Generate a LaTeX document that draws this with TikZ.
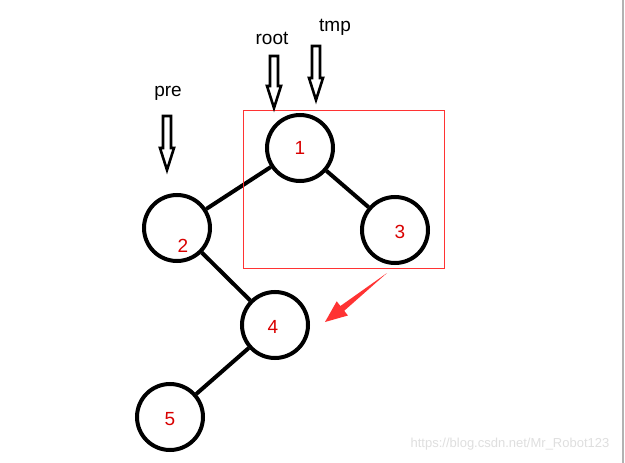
\documentclass[tikz,border=0pt]{standalone}
\usepackage{fontspec}
\setmainfont{Liberation Sans}
\begin{document}
\begin{tikzpicture}[x=1pt,y=-1pt,
  nd/.style={circle,draw=black,line width=4pt,minimum size=66pt,inner sep=0pt},
  lbl/.style={font=\fontsize{19}{19}\selectfont},
  num/.style={text=red!85!black,font=\fontsize{19}{19}\selectfont},
  edge/.style={line width=4pt},
  blk/.style={draw=black,line width=2.6pt,fill=white,line join=miter}]
\useasboundingbox (0,0) rectangle (625,463);
\fill[white] (0,0) rectangle (625,463);
\draw[gray!60,line width=1.5pt] (623,0) -- (623,463);
\node[nd] (n1) at (300,148) {};
\node[nd] (n2) at (177,228) {};
\node[nd] (n3) at (395,230) {};
\node[nd] (n4) at (275,325) {};
\node[nd] (n5) at (170,417) {};
\node[num] (t1) at (300,148) {1};
\node[num] (t2) at (183,246) {2};
\node[num] (t3) at (400,232) {3};
\node[num] (t4) at (273,327) {4};
\node[num] (t5) at (170,419) {5};
\draw[edge] (n1) -- (n2);
\draw[edge] (n1) -- (n3);
\draw[edge] (n2) -- (n4);
\draw[edge] (n4) -- (n5);
\draw[red!80,line width=1pt] (243,110) rectangle (444,268);
\coordinate (as) at (387,273);
\coordinate (ae) at (325,322);
\fill[red!80] (as) -- (344.2,310.8) -- (347.9,315.5) -- (ae) -- (336.7,301.3) -- (340.4,306.0) -- cycle;
\node[lbl] (root) at (272,38) {root};
\node[lbl] (tmp) at (335,27) {tmp};
\node[lbl] (pre) at (168,93) {pre};
\foreach \x/\a/\b in {274/56/108, 316/46/100, 167/116/170}{
  \draw[blk] (\x-4,\a) -- (\x+4,\a) -- (\x+4,\b-22) -- (\x+7,\b-22) -- (\x,\b) -- (\x-7,\b-22) -- (\x-4,\b-22) -- cycle;
}
\node[text=gray!25,font=\fontsize{13}{13}\selectfont] (wm) at (510,444) {https://blog.csdn.net/Mr\_Robot123};
\end{tikzpicture}
\end{document}
